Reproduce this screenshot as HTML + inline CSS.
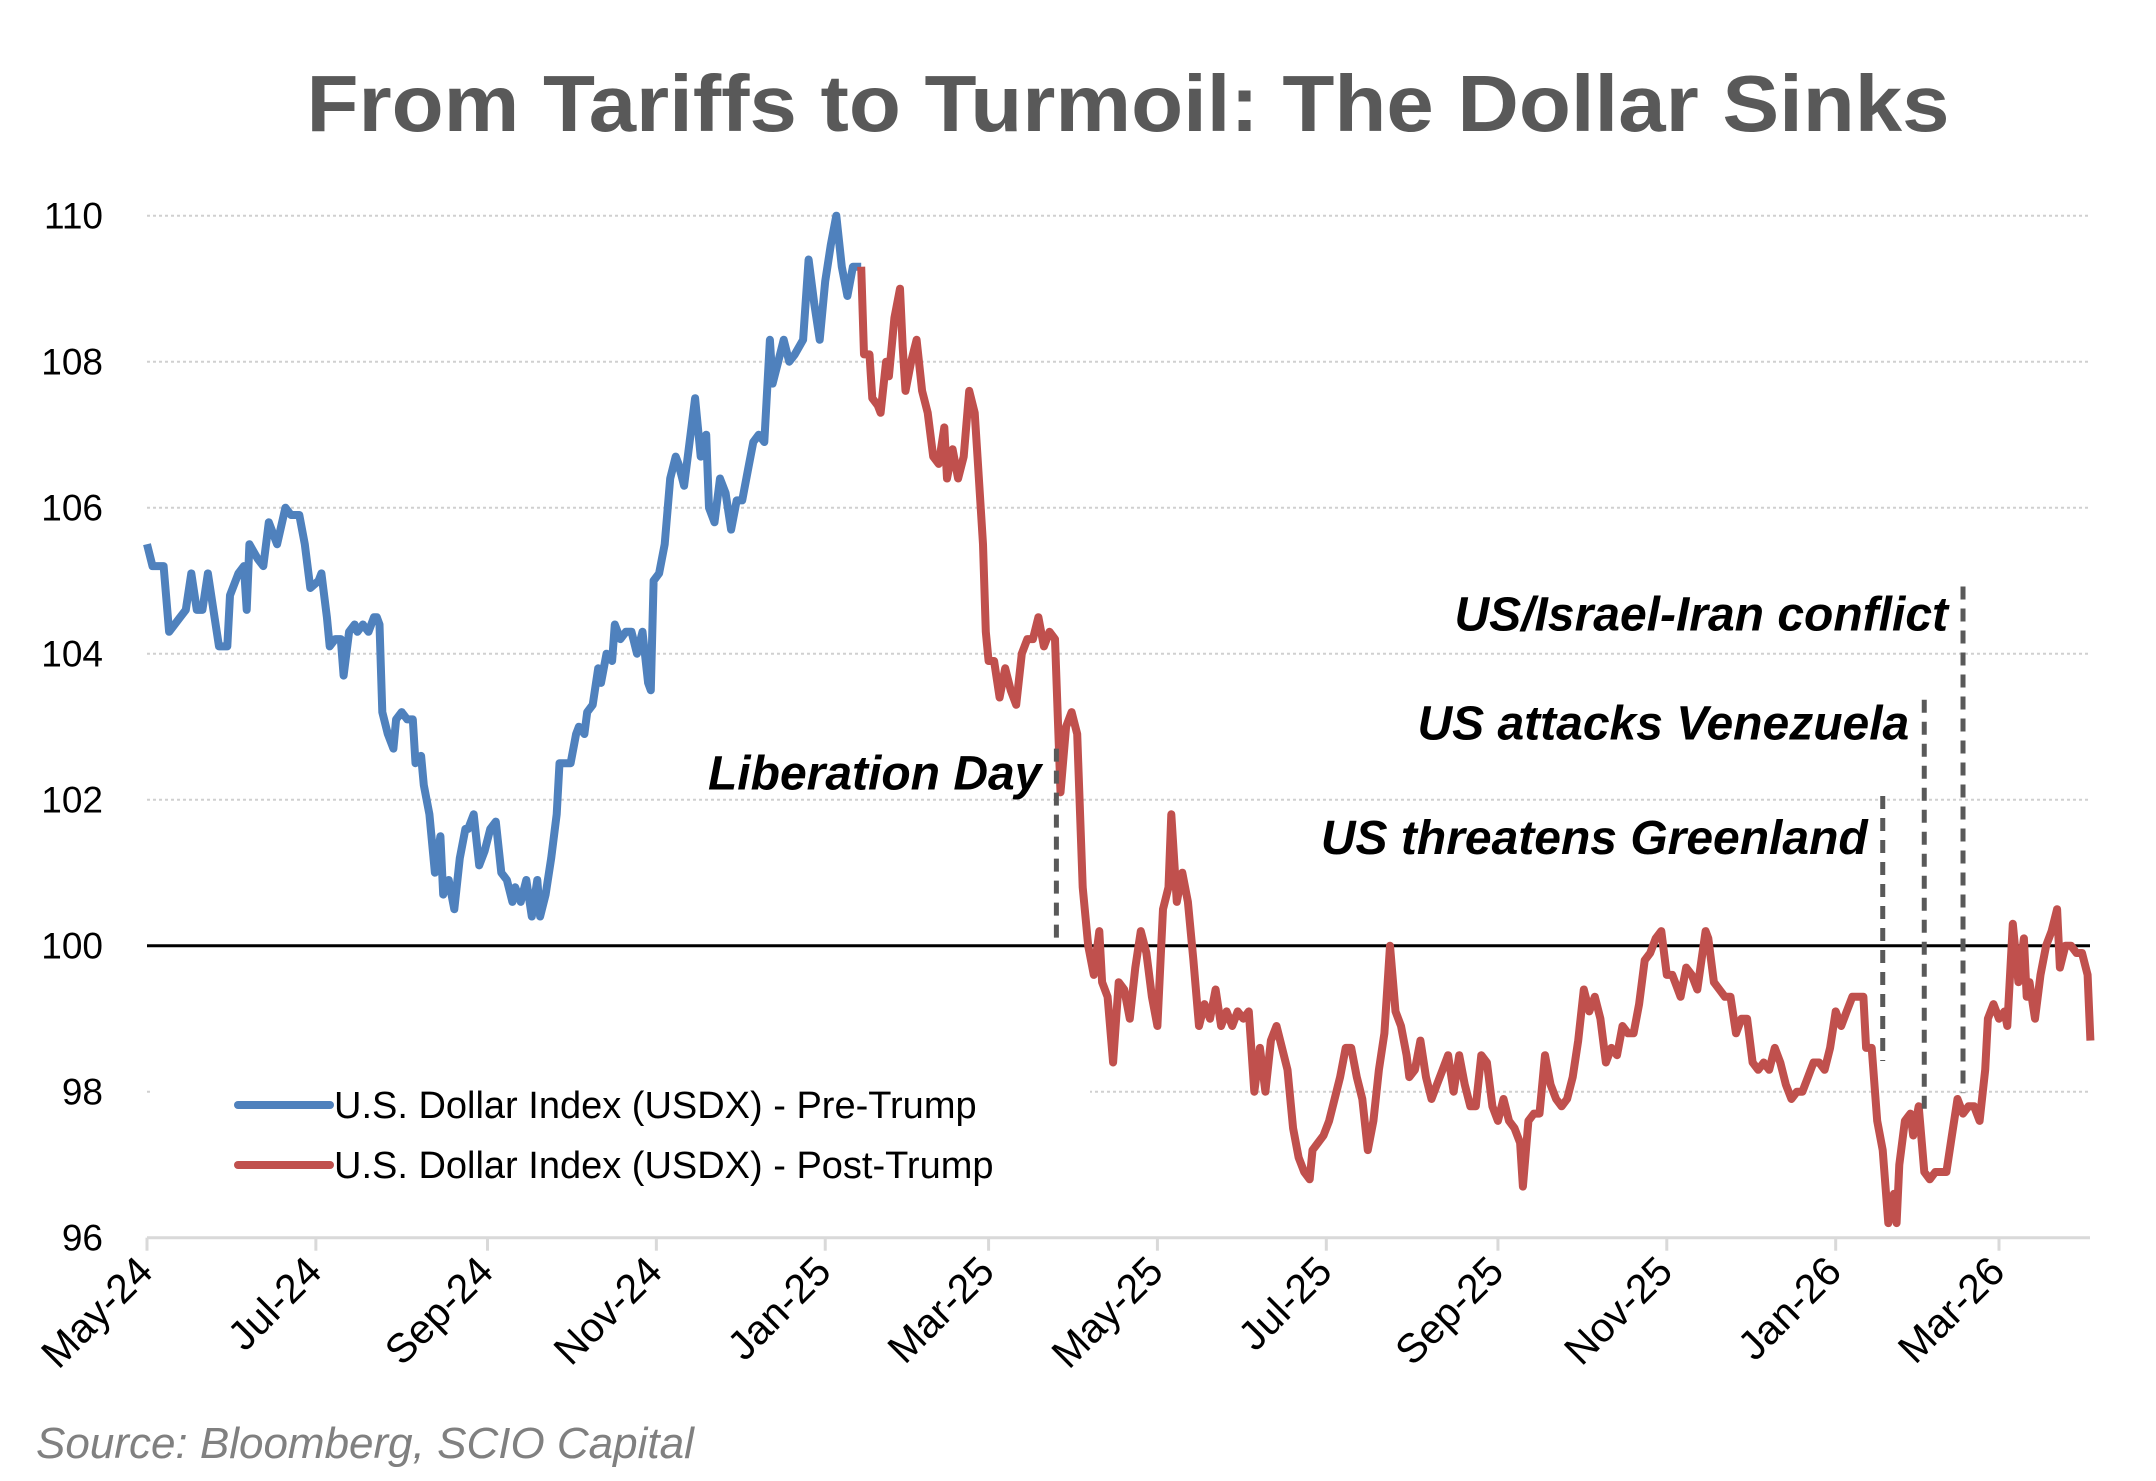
<!DOCTYPE html>
<html><head><meta charset="utf-8"><style>
html,body{margin:0;padding:0;background:#fff;}
svg{display:block;font-family:"Liberation Sans",sans-serif;}
</style></head><body>
<svg id="chart" width="2156" height="1481" viewBox="0 0 2156 1481" xmlns="http://www.w3.org/2000/svg">
<rect width="2156" height="1481" fill="#fff"/>
<text x="1128" y="131" text-anchor="middle" font-size="80" font-weight="bold" fill="#595959" textLength="1643" lengthAdjust="spacingAndGlyphs">From Tariffs to Turmoil: The Dollar Sinks</text>
<g id="grid"></g>
<g id="yticks"></g>
<g id="xaxis"></g>
<g id="series"></g>
<g id="annots"></g>
<g>
<line x1="238" y1="1105" x2="330" y2="1105" stroke="#4f81bd" stroke-width="8" stroke-linecap="round"/>
<text x="334" y="1118" font-size="38" fill="#000">U.S. Dollar Index (USDX) - Pre-Trump</text>
<line x1="238" y1="1165" x2="330" y2="1165" stroke="#c0504d" stroke-width="8" stroke-linecap="round"/>
<text x="334" y="1178" font-size="38" fill="#000">U.S. Dollar Index (USDX) - Post-Trump</text>
</g>
<text x="36" y="1458" font-size="44" font-style="italic" fill="#808080">Source: Bloomberg, SCIO Capital</text>
</svg>
<script>
const yTicks=[96,98,100,102,104,106,108,110];
const xTickLabels=["May-24","Jul-24","Sep-24","Nov-24","Jan-25","Mar-25","May-25","Jul-25","Sep-25","Nov-25","Jan-26","Mar-26"];
const xTickDays=[0,61,123,184,245,304,365,426,488,549,610,669];
const preDays=[0,2,6,8,12,14,16,18,20,22,24,26,29,30,33,35,36,37,40,42,44,47,50,52,55,57,59,62,63,65,66,68,70,71,73,75,76,78,80,82,83,84,85,87,89,90,92,94,96,97,99,100,102,104,106,107,109,111,113,115,116,118,120,122,124,126,128,130,132,133,135,137,139,141,142,144,146,148,149,151,153,155,156,158,159,161,163,164,166,168,169,171,173,175,177,179,181,182,183,185,187,189,191,192,194,196,198,200,202,203,205,207,209,211,213,215,217,219,221,223,225,226,228,230,232,234,237,239,241,243,245,247,249,251,253,255,258];
const preValues=[105.5,105.2,105.2,104.3,104.5,104.6,105.1,104.6,104.6,105.1,104.6,104.1,104.1,104.8,105.1,105.2,104.6,105.5,105.3,105.2,105.8,105.5,106.0,105.9,105.9,105.5,104.9,105.0,105.1,104.5,104.1,104.2,104.2,103.7,104.3,104.4,104.3,104.4,104.3,104.5,104.5,104.4,103.2,102.9,102.7,103.1,103.2,103.1,103.1,102.5,102.6,102.2,101.8,101.0,101.5,100.7,100.9,100.5,101.2,101.6,101.6,101.8,101.1,101.3,101.6,101.7,101.0,100.9,100.6,100.8,100.6,100.9,100.4,100.9,100.4,100.7,101.2,101.8,102.5,102.5,102.5,102.9,103.0,102.9,103.2,103.3,103.8,103.6,104.0,103.9,104.4,104.2,104.3,104.3,104.0,104.3,103.6,103.5,105.0,105.1,105.5,106.4,106.7,106.6,106.3,106.9,107.5,106.7,107.0,106.0,105.8,106.4,106.2,105.7,106.1,106.1,106.5,106.9,107.0,106.9,108.3,107.7,108.0,108.3,108.0,108.1,108.3,109.4,108.8,108.3,109.1,109.6,110.0,109.3,108.9,109.3,109.3];
const postDays=[258,259,261,262,264,265,267,268,270,272,273,274,276,278,280,282,284,286,288,289,291,293,295,297,299,300,302,303,304,306,308,310,312,314,316,318,320,322,324,326,328,330,332,334,336,338,340,342,344,345,347,349,351,353,355,357,359,361,363,365,367,369,370,372,374,376,378,380,382,384,386,388,390,392,394,396,398,400,402,404,406,408,410,412,414,416,418,420,421,423,425,427,429,431,433,435,437,439,441,443,445,447,449,451,453,455,456,458,460,462,464,466,468,470,472,474,476,478,480,482,484,486,488,490,492,494,496,497,499,501,503,505,507,509,511,513,515,517,519,521,523,525,527,529,531,533,535,537,539,541,543,545,547,549,551,552,554,556,558,560,563,564,566,568,570,572,574,576,578,580,582,584,586,588,590,592,594,596,598,600,602,604,606,608,610,612,614,616,618,620,621,623,625,627,629,631,632,633,635,637,638,640,642,644,646,648,650,652,654,656,658,660,662,664,665,667,669,671,672,674,676,678,679,680,682,684,686,688,690,691,693,695,697,699,701,702];
const postValues=[109.3,108.1,108.1,107.5,107.4,107.3,108.0,107.8,108.6,109.0,108.2,107.6,108.0,108.3,107.6,107.3,106.7,106.6,107.1,106.4,106.8,106.4,106.7,107.6,107.3,106.7,105.5,104.3,103.9,103.9,103.4,103.8,103.5,103.3,104.0,104.2,104.2,104.5,104.1,104.3,104.2,102.1,103.0,103.2,102.9,100.8,100.0,99.6,100.2,99.5,99.3,98.4,99.5,99.4,99.0,99.7,100.2,99.9,99.3,98.9,100.5,100.8,101.8,100.6,101.0,100.6,99.8,98.9,99.2,99.0,99.4,98.9,99.1,98.9,99.1,99.0,99.1,98.0,98.6,98.0,98.7,98.9,98.6,98.3,97.5,97.1,96.9,96.8,97.2,97.3,97.4,97.6,97.9,98.2,98.6,98.6,98.2,97.9,97.2,97.6,98.3,98.8,100.0,99.1,98.9,98.5,98.2,98.3,98.7,98.2,97.9,98.1,98.3,98.5,98.0,98.5,98.1,97.8,97.8,98.5,98.4,97.8,97.6,97.9,97.6,97.5,97.3,96.7,97.6,97.7,97.7,98.5,98.1,97.9,97.8,97.9,98.2,98.7,99.4,99.1,99.3,99.0,98.4,98.6,98.5,98.9,98.8,98.8,99.2,99.8,99.9,100.1,100.2,99.6,99.6,99.5,99.3,99.7,99.6,99.4,100.2,100.1,99.5,99.4,99.3,99.3,98.8,99.0,99.0,98.4,98.3,98.4,98.3,98.6,98.4,98.1,97.9,98.0,98.0,98.2,98.4,98.4,98.3,98.6,99.1,98.9,99.1,99.3,99.3,99.3,98.6,98.6,97.6,97.2,96.2,96.6,96.2,97.0,97.6,97.7,97.4,97.8,96.9,96.8,96.9,96.9,96.9,97.4,97.9,97.7,97.8,97.8,97.6,98.3,99.0,99.2,99.0,99.1,98.9,100.3,99.5,100.1,99.3,99.5,99.0,99.6,100.0,100.2,100.5,99.7,100.0,100.0,99.9,99.9,99.6,98.7];
const eventLabels=["Liberation Day","US threatens Greenland","US attacks Venezuela","US/Israel-Iran conflict"];
const eventDays=[328.5,627,642,656];
const eventTop=[102.7,102.05,103.37,104.92];
const eventBottom=[100.0,98.42,97.76,97.98];
const labelDrop=[41,58,40,44];

const NS="http://www.w3.org/2000/svg";
const X0=147,X1=2090,Y0=1237.7;
const pxDay=(1999-147)/669;
const x=d=>X0+d*pxDay;
const y=v=>Y0-(v-96)*73;
function mk(tag,attrs,parent){const e=document.createElementNS(NS,tag);for(const k in attrs)e.setAttribute(k,attrs[k]);parent.appendChild(e);return e;}
const grid=document.getElementById('grid'),yt=document.getElementById('yticks'),xa=document.getElementById('xaxis'),se=document.getElementById('series'),an=document.getElementById('annots');
yTicks.forEach(v=>{
  if(v!==96&&v!==100){const g=mk('line',{x1:X0,x2:X1,y1:y(v),y2:y(v),stroke:'#d0d0d0','stroke-width':2,'stroke-dasharray':'3 3'},grid);
  
  }
  const t=mk('text',{x:103,y:y(v)+13,'text-anchor':'end','font-size':37,fill:'#000'},yt);
  t.textContent=v;
  
  
});
const lb=mk('rect',{x:X0+3,y:1070,width:940,height:130,fill:'#fff'},grid);


const ax=mk('line',{x1:X0,x2:X1,y1:Y0,y2:Y0,stroke:'#d9d9d9','stroke-width':3},xa);


xTickLabels.forEach((lab,i)=>{
  const tx=x(xTickDays[i]);
  const tk=mk('line',{x1:tx,x2:tx,y1:Y0,y2:Y0+13,stroke:'#d9d9d9','stroke-width':3},xa);
  
  
  const t=mk('text',{x:tx+8,y:Y0+36,'text-anchor':'end','font-size':41,fill:'#000',transform:`rotate(-45 ${tx+8} ${Y0+36})`},xa);
  t.textContent=lab;
  
  
});
const bl=mk('line',{x1:X0,x2:X1,y1:y(100),y2:y(100),stroke:'#000','stroke-width':3},grid);


function path(days,vals){return days.map((d,i)=>(i?'L':'M')+x(d).toFixed(1)+' '+y(vals[i]).toFixed(1)).join(' ');}
const p1=mk('path',{d:path(preDays,preValues),fill:'none',stroke:'#4f81bd','stroke-width':8,'stroke-linejoin':'round'},se);


const p2=mk('path',{d:path(postDays,postValues),fill:'none',stroke:'#c0504d','stroke-width':8,'stroke-linejoin':'round'},se);


eventLabels.forEach((lab,i)=>{
  const ex=x(eventDays[i]);
  const l=mk('line',{x1:ex,x2:ex,y1:y(eventTop[i]),y2:y(eventBottom[i]),stroke:'#595959','stroke-width':5,'stroke-dasharray':'13 9'},an);
  
  
  const t=mk('text',{x:ex-15,y:y(eventTop[i])+labelDrop[i],'text-anchor':'end','font-size':48,'font-weight':'bold','font-style':'italic',fill:'#000'},an);
  t.textContent=lab;
  
  
});
</script>
</body></html>
